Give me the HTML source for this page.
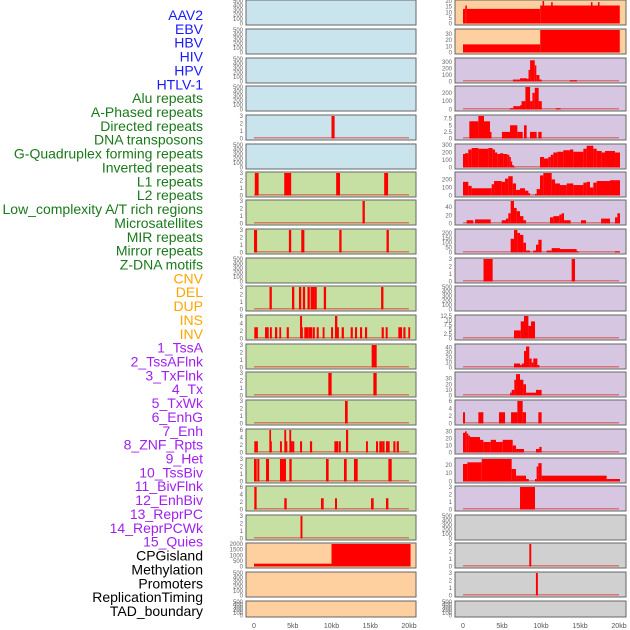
<!DOCTYPE html>
<html><head><meta charset="utf-8"><style>
body{margin:0;background:#fff;width:630px;height:630px;overflow:hidden;font-family:"Liberation Sans",sans-serif}
svg{display:block}
</style></head><body>
<svg id="chart" width="630" height="630" xmlns="http://www.w3.org/2000/svg"></svg>
<script>
const labels=["AAV2","EBV","HBV","HIV","HPV","HTLV-1","Alu repeats","A-Phased repeats","Directed repeats","DNA transposons","G-Quadruplex forming repeats","Inverted repeats","L1 repeats","L2 repeats","Low_complexity A/T rich regions","Microsatellites","MIR repeats","Mirror repeats","Z-DNA motifs","CNV","DEL","DUP","INS","INV","1_TssA","2_TssAFlnk","3_TxFlnk","4_Tx","5_TxWk","6_EnhG","7_Enh","8_ZNF_Rpts","9_Het","10_TssBiv","11_BivFlnk","12_EnhBiv","13_ReprPC","14_ReprPCWk","15_Quies","CPGisland","Methylation","Promoters","ReplicationTiming","TAD_boundary"];
const labelGroups=[6,13,5,15,5];
const groupColors=["#1a1aff","#1a7a1a","#ffa500","#a020f0","#000000"];
const xTickLabels=["0","5kb","10kb","15kb","20kb"];
const xTickValues=[0,5,10,15,20];
const leftMax=[500,500,500,500,3,500,3,3,3,500,3,6,3,3,3,6,3,6,3,2000,500,500];
const rightMax=[20,36,350,270,8.5,300,280,55,230,3,500,12.5,45,40,6,32,27,3,500,3,3,500];
const leftTicks=[[0,100,200,300,400,500],[0,100,200,300,400,500],[0,100,200,300,400,500],[0,100,200,300,400,500],[0,1,2,3],[0,100,200,300,400,500],[0,1,2,3],[0,1,2,3],[0,1,2,3],[0,100,200,300,400,500],[0,1,2,3],[0,2,4,6],[0,1,2,3],[0,1,2,3],[0,1,2,3],[0,2,4,6],[0,1,2,3],[0,2,4,6],[0,1,2,3],[0,500,1000,1500,2000],[0,100,200,300,400,500],[0,100,200,300,400,500]];
const rightTicks=[[0,5,10,15,20],[0,10,20,30],[0,100,200,300],[0,100,200],[0,2.5,5,7.5],[0,100,200,300],[0,100,200],[0,20,40],[0,50,100,150,200],[0,1,2,3],[0,100,200,300,400,500],[0,2.5,5,7.5,10,12.5],[0,10,20,30,40],[0,10,20,30],[0,2,4,6],[0,10,20,30],[0,10,20],[0,1,2,3],[0,100,200,300,400,500],[0,1,2,3],[0,1,2,3],[0,100,200,300,400,500]];
const leftBg=["#c9e4ec","#c9e4ec","#c9e4ec","#c9e4ec","#c9e4ec","#c9e4ec","#c6e0a4","#c6e0a4","#c6e0a4","#c6e0a4","#c6e0a4","#c6e0a4","#c6e0a4","#c6e0a4","#c6e0a4","#c6e0a4","#c6e0a4","#c6e0a4","#c6e0a4","#fecf9f","#fecf9f","#fecf9f"];
const rightBg=["#fecf9f","#fecf9f","#d6c6e2","#d6c6e2","#d6c6e2","#d6c6e2","#d6c6e2","#d6c6e2","#d6c6e2","#d6c6e2","#d6c6e2","#d6c6e2","#d6c6e2","#d6c6e2","#d6c6e2","#d6c6e2","#d6c6e2","#d6c6e2","#d0d0d0","#d0d0d0","#d0d0d0","#d0d0d0"];
const leftBars=[[],[],[],[],
[[10,10.4,3]],
[],
[[0.1,0.6,3],[3.9,4.8,3],[10.6,11.1,3],[16.8,17.3,3]],
[[14.0,14.3,3]],
[[0,0.4,3],[4.5,4.8,3],[6.1,6.5,3],[11.0,11.3,3],[17.1,17.4,3]],
[],
[[2.0,2.3,3],[4.9,5.2,3],[5.8,6.1,3],[6.3,6.6,3],[6.9,7.2,3],[7.3,7.6,3],[7.5,7.8,3],[7.8,8.1,3],[9.0,9.3,3],[16.4,16.7,3]],
[[0.04,0.3,3],[0.26,0.5,3],[1.42,1.7,3],[1.63,1.9,3],[2.06,2.3,3],[2.71,3.0,3],[3.27,3.5,3],[4.22,4.5,3],[5.94,6.2,6],[6.06,6.3,3],[6.49,6.75,3],[6.71,7.0,3],[7.01,7.3,3],[7.22,7.5,3],[7.57,7.85,3],[8.09,8.35,3],[8.86,9.1,3],[9.94,10.2,3],[10.45,10.75,6],[10.67,10.95,3],[11.31,11.6,3],[12.47,12.75,3],[13.03,13.3,3],[13.68,13.95,3],[14.32,14.6,3],[16.47,16.75,3],[16.99,17.25,3],[18.62,18.9,3],[18.84,19.1,3],[19.27,19.55,3],[19.91,20.15,3]],
[[15.18,15.83,3]],
[[9.59,10.02,3],[15.4,15.83,3]],
[[11.74,12.09,3]],
[[0.04,0.3,3],[0.26,0.5,3],[1.98,2.2,6],[2.06,2.3,3],[3.35,3.6,3],[3.91,4.15,6],[4.09,4.3,3],[4.56,4.8,6],[4.77,5.0,3],[4.99,5.2,3],[5.94,6.2,3],[7.22,7.5,3],[10.37,10.6,3],[10.58,10.85,3],[10.92,11.2,3],[11.87,12.15,6],[14.45,14.7,3],[15.74,16.0,3],[16.17,16.4,3],[16.39,16.6,3],[16.6,16.85,3],[17.03,17.3,3],[17.25,17.5,3],[17.98,18.25,3],[18.41,18.7,3]],
[[0,0.35,3],[0.43,0.69,3],[1.55,1.94,3],[3.35,4.13,3],[4.56,4.86,3],[9.29,9.63,3],[11.61,11.96,3],[12.9,13.38,3],[17.34,17.77,3]],
[[0.04,0.34,6],[3.91,4.22,3],[8.64,8.99,3],[10.45,10.71,3],[15.1,15.44,3],[17.03,17.34,3]],
[[6.0,6.25,3]],
[[0,10,250],[10,20.2,2000]],
[],[]];
const rightBars=[
[[0,0.3,13],[0.3,0.5,16],[0.5,9.9,13],[9.9,20.1,16],[10.2,10.4,20],[11.3,11.5,19],[16.4,16.6,19],[17.3,17.5,19]],
[[0,9.9,13],[9.9,20.1,36]],
[[6.4,7.3,30],[7.3,8.2,50],[8.2,8.4,40],[8.4,8.6,180],[8.6,9.2,330],[9.2,9.4,250],[9.4,9.8,100],[9.8,10.1,30],[13.7,14.6,20]],
[[6.0,6.45,15],[6.45,7.3,40],[7.3,7.5,50],[7.5,8.0,100],[8.0,8.6,270],[8.6,8.9,100],[8.9,9.2,200],[9.2,9.7,260],[9.7,10.1,100],[11.9,12.5,15]],
[[0.81,1.97,6.5],[1.97,2.69,8.5],[2.69,3.46,6.5],[3.46,3.6,2.5],[4.99,6.03,2.5],[6.03,6.97,5],[6.97,7.65,2.5],[7.82,8.16,5],[8.59,9.44,2.5],[9.65,10.08,2.5]],
[[0,0.26,180],[0.26,0.68,190],[0.68,1.11,240],[1.11,1.97,260],[1.97,3.25,250],[3.25,3.8,260],[3.8,4.1,240],[4.1,4.4,200],[4.4,4.74,180],[4.74,5.17,190],[5.17,5.68,180],[5.68,5.94,170],[5.94,6.11,140],[6.11,6.28,80],[6.28,6.54,30],[6.54,6.67,5],[9.87,10.38,140],[10.38,10.94,120],[10.94,11.24,140],[11.24,11.58,170],[11.58,12.09,200],[12.09,12.86,210],[12.86,13.72,230],[13.72,14.14,240],[14.14,15.43,210],[15.43,15.85,250],[15.85,16.71,290],[16.71,17.14,250],[17.14,17.78,220],[17.78,18.21,200],[18.21,19.49,220],[19.49,20.13,200]],
[[0,0.68,170],[0.68,1.11,120],[1.11,3.68,90],[3.68,3.98,140],[3.98,4.96,180],[4.96,5.39,170],[5.39,5.81,210],[5.81,6.37,240],[6.37,6.8,150],[6.8,7.31,70],[7.31,7.95,90],[7.95,8.38,60],[8.38,8.59,30],[9.23,9.44,20],[9.44,9.87,80],[9.87,10.3,250],[10.3,11.37,280],[11.37,11.8,200],[11.8,12.43,150],[12.43,13.29,130],[13.29,14.14,150],[14.14,15.43,130],[15.43,15.85,160],[15.85,16.28,170],[16.28,16.71,100],[16.71,17.14,160],[17.14,18.85,180],[18.85,20.13,190]],
[[0.47,1.33,8],[1.54,3.55,10],[4.96,5.51,8],[5.51,5.81,12],[5.81,6.11,25],[6.11,6.54,55],[6.54,6.88,38],[6.88,7.31,30],[7.31,7.74,18],[7.74,8.08,8],[11.15,11.58,15],[11.58,12.35,18],[12.35,12.65,22],[12.65,12.95,25],[12.95,13.8,8],[15.13,15.77,8],[17.7,18.85,12],[19.49,19.79,15],[19.79,20.13,25]],
[[6.11,6.54,140],[6.54,6.97,230],[6.97,7.31,200],[7.31,7.74,180],[7.74,8.08,100],[8.08,8.59,20],[9.01,9.36,20],[9.36,9.66,80],[9.66,10.08,130],[10.72,11.37,20],[11.37,12.43,45],[12.43,14.57,35],[14.57,14.8,15],[19.49,20.13,12]],
[[2.63,3.8,3],[13.93,14.36,3]],
[],
[[6.54,7.4,4.5],[7.4,7.82,9.5],[7.82,8.38,12.5],[8.38,8.72,7],[8.72,9.23,9.5]],
[[6.54,7.31,8],[7.31,7.52,5],[7.52,7.82,8],[7.82,8.08,33],[8.08,8.5,42],[8.5,8.8,18],[8.8,9.01,10],[9.01,9.53,18],[9.53,9.79,5]],
[[6.03,6.24,5],[6.24,6.58,10],[6.58,6.8,28],[6.8,7.31,38],[7.31,7.74,28],[7.74,8.08,20],[8.08,9.36,5],[9.36,10.08,10]],
[[0,0.26,3],[1.97,2.61,3],[4.61,5.39,3],[6.16,6.97,3],[6.97,7.65,6],[7.65,8.08,3],[9.66,10.08,3]],
[[0,0.26,28],[0.26,0.47,30],[0.47,0.68,27],[0.68,0.9,24],[0.9,2.18,22],[2.18,2.61,18],[2.61,3.55,15],[3.55,4.23,18],[4.23,5.09,15],[5.09,6.37,18],[6.37,6.8,10],[6.8,7.82,5],[9.36,9.79,5],[9.79,10.08,8]],
[[0,0.56,21],[0.56,2.4,23],[2.4,6.24,27],[6.24,6.8,15],[6.8,8.08,7],[8.08,8.43,3],[9.23,9.44,3],[9.44,9.66,18],[9.66,10.08,22],[10.08,18.42,7],[18.42,20.13,3]],
[[7.31,9.23,3]],
[],
[[8.5,8.75,3]],
[[9.35,9.6,3]],
[]];
const rowTops=[0,29,58,86,115,144,172,200,229,258,286,315,344,372,400,429,458,486,515,543,572,601];
const rowH=[25,25,25,25,25,25,25,25,25,25,25,25,25,25,25,25,25,25,25,25,25,16];
const svg=document.getElementById('chart');
const NS='http://www.w3.org/2000/svg';
function mk(t,a){const e=document.createElementNS(NS,t);for(const k in a)e.setAttribute(k,a[k]);svg.appendChild(e);return e;}
// labels
let li=0;
labelGroups.forEach((n,g)=>{for(let j=0;j<n;j++){const t=mk('text',{x:203,y:15+li*13.86+5,'text-anchor':'end','font-size':'14','fill':groupColors[g]});t.textContent=labels[li];


li++;}});
const cols=[{px:246,pw:170,x0:254,x1:409,tickX:243,max:leftMax,ticks:leftTicks,bg:leftBg,bars:leftBars,name:'left'},
{px:455,pw:171,x0:463,x1:619,tickX:452,max:rightMax,ticks:rightTicks,bg:rightBg,bars:rightBars,name:'right'}];
cols.forEach(c=>{
  const xs=v=>c.x0+(c.x1-c.x0)*v/20;
  rowTops.forEach((top,i)=>{
    const h=rowH[i];const yb=top+h-1.5, yt=top+1;
    const ys=v=>yb-(yb-yt)*v/c.max[i];
    const r=mk('rect',{x:c.px,y:top,width:c.pw,height:h,fill:c.bg[i],stroke:'#666','stroke-width':1});
    
    
    c.ticks[i].forEach(tv=>{const t=mk('text',{x:c.tickX,y:ys(tv)+2,'text-anchor':'end','font-size':'6','fill':'#666'});t.textContent=String(tv);
      
      });
    if(c.bars[i].length){
      const bl=mk('rect',{x:xs(0),y:yb-1.5,width:xs(20)-xs(0),height:1.5,fill:'#d9534f',opacity:0.7});
      
      
    }
    c.bars[i].forEach(b=>{const y=ys(b[2]);const e=mk('rect',{x:xs(b[0]),y:Math.max(y,top+0.5),width:Math.max(xs(b[1])-xs(b[0]),1.5),height:yb-Math.max(y,top+0.5),fill:'#ff0000'});
      
      });
  });
  xTickValues.forEach((v,k)=>{const t=mk('text',{x:xs(v),y:628,'text-anchor':'middle','font-size':'7','fill':'#555'});t.textContent=xTickLabels[k];
    
    });
});
</script>
</body></html>
